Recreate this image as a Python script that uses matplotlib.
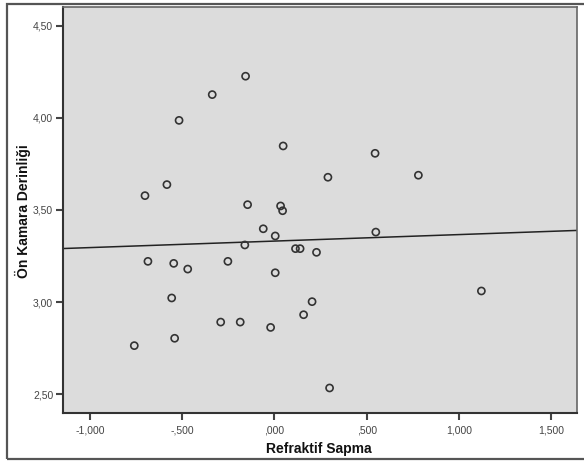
import numpy as np
import matplotlib
matplotlib.use("Agg")
import matplotlib.pyplot as plt
from matplotlib.patches import Rectangle
from matplotlib.ticker import FuncFormatter

# -------------------------
# DATA
# -------------------------
refraktif = [-0.157, -0.338, -0.518, 0.047, -0.584, -0.703, -0.146, 0.033,
             0.044, -0.061, 0.004, -0.161, 0.114, 0.139, 0.228, -0.687,
             -0.547, -0.471, -0.253, 0.004, -0.558, 0.204, 0.158, -0.292,
             -0.186, -0.021, -0.542, -0.761, 0.546, 0.290, 0.781, 0.550,
             0.299, 1.123]
derinlik = [4.227, 4.127, 3.987, 3.848, 3.638, 3.578, 3.529, 3.522,
            3.496, 3.398, 3.359, 3.310, 3.290, 3.290, 3.270, 3.221,
            3.210, 3.179, 3.221, 3.159, 3.022, 3.002, 2.931, 2.891,
            2.891, 2.862, 2.803, 2.763, 3.808, 3.678, 3.689, 3.380,
            2.533, 3.060]

x_ticks = [-1.0, -0.5, 0.0, 0.5, 1.0, 1.5]
y_ticks = [2.5, 3.0, 3.5, 4.0, 4.5]
x_lim = (-1.148, 1.642)
y_lim = (2.397, 4.603)

x = np.array(refraktif)
y = np.array(derinlik)

plt.rcParams["font.family"] = ["Liberation Sans", "DejaVu Sans"]

W, H = 584, 463
fig = plt.figure(figsize=(W / 100, H / 100), dpi=100)
fig.patch.set_facecolor("white")

# outer frame (SPSS output border)
fig.patches.append(Rectangle((7 / W, 4 / H), 1.0, 455 / H,
                             transform=fig.transFigure, fill=False,
                             edgecolor="#555555", linewidth=1.6))

ax = fig.add_axes([63 / W, 50 / H, 514 / W, 406 / H])
ax.set_facecolor("#dcdcdc")

ax.scatter(x, y, s=26, facecolors="none", edgecolors="#333333",
           linewidths=1.2, zorder=3)

# fit line
b1, b0 = np.polyfit(x, y, 1)
xl = np.array(x_lim)
ax.plot(xl, b0 + b1 * xl, color="#222222", lw=1.1, zorder=2)

ax.set_xlim(*x_lim)
ax.set_ylim(*y_lim)
ax.set_xticks(x_ticks)
ax.set_yticks(y_ticks)


def spss_fmt(decimals):
    def f(v, pos):
        s = f"{v:.{decimals}f}".replace(".", ",")
        if s.startswith("0,"):
            s = s[1:]
        elif s.startswith("-0,"):
            s = "-" + s[2:]
        return s
    return FuncFormatter(f)


ax.xaxis.set_major_formatter(spss_fmt(3))
ax.yaxis.set_major_formatter(spss_fmt(2))
ax.tick_params(direction="out", length=5, width=1.5, color="#444444",
               labelsize=7.5, labelcolor="#444444", pad=2)
ax.tick_params(axis="x", pad=4)

for side in ["top", "right"]:
    ax.spines[side].set_color("#666666")
    ax.spines[side].set_linewidth(1.2)
for side in ["left", "bottom"]:
    ax.spines[side].set_color("#333333")
    ax.spines[side].set_linewidth(1.5)

fig.text(319 / W, 1 - 449 / H, "Refraktif Sapma", ha="center", va="center",
         fontsize=10, fontweight="bold", color="#111111")
fig.text(23 / W, 1 - 211 / H, "Ön Kamara Derinliği", ha="center",
         va="center", rotation=90, fontsize=10, fontweight="bold",
         color="#111111")

fig.savefig("out.png", dpi=100)
